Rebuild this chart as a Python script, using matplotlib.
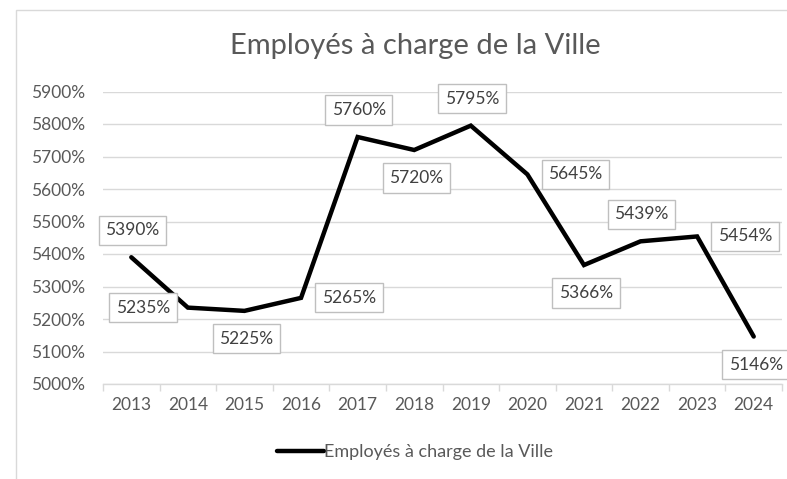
import matplotlib
matplotlib.use("Agg")
import matplotlib.pyplot as plt
from matplotlib.patches import Rectangle
from matplotlib.ticker import FuncFormatter, FixedLocator, NullFormatter

years = ["2013", "2014", "2015", "2016", "2017", "2018", "2019", "2020", "2021", "2022", "2023", "2024"]
values = [5390, 5235, 5225, 5265, 5760, 5720, 5795, 5645, 5366, 5439, 5454, 5146]
placements = ["above", "left", "below", "right", "above", "below", "above", "right",
              "below", "above", "right", "below"]
series_name = "Employés à charge de la Ville"
title = "Employés à charge de la Ville"

plt.rcParams['font.family'] = ['Lato', 'DejaVu Sans']
W, H = 787, 479
fig = plt.figure(figsize=(W / 100, H / 100), dpi=100)

# chart frame
fig.patches.append(Rectangle((16 / W, 0 - 0.05), 1.1, 1 - 10 / H + 0.05, transform=fig.transFigure,
                             fill=False, edgecolor="#d9d9d9", linewidth=1.0))

ax = fig.add_axes([103 / W, 1 - 384 / H, (782 - 103) / W, (384 - 91.5) / H])
x = list(range(len(years)))
ax.plot(x, values, color="black", linewidth=3.2, solid_joinstyle="miter", solid_capstyle="round",
        label=series_name, zorder=3)
ax.set_xlim(-0.5, len(years) - 0.5)
ax.set_ylim(5000, 5900)
ax.set_yticks(range(5000, 5901, 100))
ax.yaxis.set_major_formatter(FuncFormatter(lambda v, p: f"{int(v)}%"))
ax.grid(axis="y", color="#d9d9d9", linewidth=1.0)
ax.set_axisbelow(True)
for s in ["top", "right", "left"]:
    ax.spines[s].set_visible(False)
ax.spines["bottom"].set_color("#d9d9d9")
ax.spines["bottom"].set_linewidth(1.0)

ax.set_xticks(x)
ax.set_xticklabels(years)
ax.xaxis.set_minor_locator(FixedLocator([i - 0.5 for i in range(len(years) + 1)]))
ax.xaxis.set_minor_formatter(NullFormatter())
ax.tick_params(axis="x", which="major", length=0, pad=9, labelsize=12.5, labelcolor="#595959")
ax.tick_params(axis="x", which="minor", length=5, color="#d9d9d9", width=1.0)
ax.tick_params(axis="y", length=0, pad=13, labelsize=12.5, labelcolor="#595959")

offsets = {"above": (1, 27), "below": (2, -28), "left": (-45, 0), "right": (48, 0)}
for xi, v, pl in zip(x, values, placements):
    dx, dy = offsets[pl]
    ax.annotate(f"{v}%", (xi, v), xytext=(dx, dy), textcoords="offset pixels",
                ha="center", va="center", fontsize=12.5, color="#404040", zorder=5,
                bbox=dict(boxstyle="square,pad=0.38", facecolor="white", edgecolor="#bfbfbf", linewidth=1.0))

fig.text(415 / W, 1 - 46 / H, title, ha="center", va="center", fontsize=21, color="#595959")

leg = fig.legend(loc="center", bbox_to_anchor=(415 / W, 1 - 452 / H), frameon=False,
                 fontsize=13, handlelength=2.6, handletextpad=0.05, labelcolor="#595959")

fig.savefig("out.png", dpi=100)
